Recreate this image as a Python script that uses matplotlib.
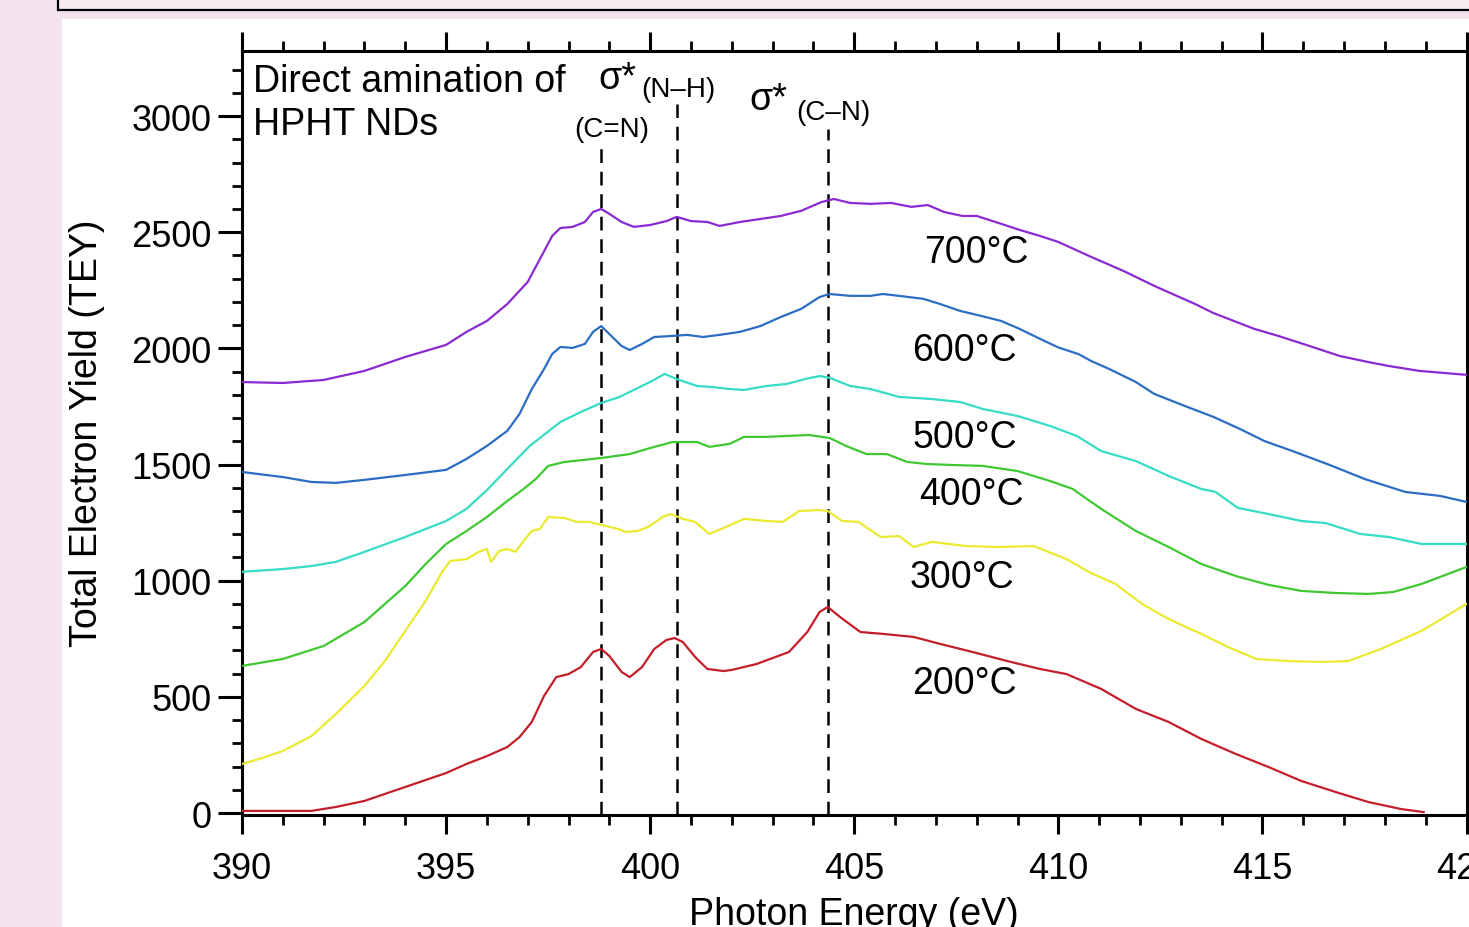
import matplotlib
matplotlib.use('Agg')
import matplotlib.pyplot as plt
from matplotlib.patches import Rectangle
from matplotlib.ticker import MultipleLocator

plt.rcParams['font.family'] = ['Liberation Sans', 'DejaVu Sans']

# ---------------- data ----------------
e_700 = [390.0, 391.0, 392.0, 393.0, 394.0, 395.0, 395.5, 396.0, 396.5, 397.0, 397.3, 397.6, 397.8,
         398.1, 398.4, 398.6, 398.8, 399.0, 399.3, 399.6, 400.0, 400.4, 400.65, 401.0, 401.4, 401.7,
         402.2, 402.7, 403.2, 403.7, 404.2, 404.5, 404.9, 405.4, 405.9, 406.4, 406.8, 407.2, 407.65,
         408.0, 408.6, 409.05, 409.55, 410.0, 410.8, 411.6, 412.35, 413.35, 413.8, 414.8, 415.4,
         416.0, 416.9, 417.6, 418.1, 418.85, 420.0]
tey_700 = [1855, 1851, 1864, 1903, 1963, 2015, 2071, 2118, 2191, 2286, 2385, 2484, 2518,
           2523, 2544, 2587, 2600, 2579, 2544, 2523, 2531, 2548, 2566, 2548, 2544, 2527,
           2544, 2557, 2570, 2592, 2630, 2643, 2626, 2622, 2626, 2609, 2617, 2587, 2570,
           2570, 2536, 2510, 2484, 2458, 2394, 2333, 2269, 2191, 2152, 2084, 2053,
           2019, 1967, 1941, 1924, 1903, 1886]

e_600 = [390.0, 391.0, 391.7, 392.3, 393.0, 394.0, 395.0, 395.5, 396.0, 396.5, 396.8, 397.1, 397.4,
         397.6, 397.8, 398.1, 398.4, 398.6, 398.8, 399.0, 399.3, 399.5, 399.8, 400.1, 400.5, 400.9,
         401.3, 401.7, 402.2, 402.7, 403.2, 403.7, 404.15, 404.4, 404.9, 405.4, 405.7, 406.1, 406.7,
         407.1, 407.6, 408.1, 408.6, 409.05, 409.55, 410.0, 410.5, 410.8, 411.25, 411.9, 412.35,
         413.1, 413.8, 414.45, 415.05, 415.8, 416.65, 417.5, 418.5, 419.35, 420.0]
tey_600 = [1468, 1446, 1425, 1421, 1434, 1455, 1477, 1524, 1580, 1645, 1718, 1825, 1911,
           1976, 2006, 2002, 2019, 2071, 2096, 2062, 2010, 1993, 2019, 2049, 2053, 2058,
           2049, 2058, 2071, 2096, 2135, 2170, 2221, 2234, 2226, 2226, 2234, 2226, 2213,
           2191, 2161, 2140, 2118, 2084, 2041, 2004, 1975, 1946, 1911, 1855, 1804,
           1752, 1705, 1653, 1601, 1554, 1498, 1438, 1382, 1365, 1339]

e_500 = [390.0, 391.0, 391.7, 392.3, 393.0, 394.0, 395.0, 395.5, 396.0, 396.5, 397.05, 397.8, 398.3,
         398.8, 399.25, 399.75, 400.05, 400.35, 400.65, 401.15, 401.5, 401.95, 402.3, 402.85, 403.35,
         403.8, 404.15, 404.4, 404.9, 405.4, 406.1, 406.9, 407.6, 408.15, 409.0, 409.8, 410.45,
         411.05, 411.9, 412.7, 413.5, 413.85, 414.4, 415.15, 415.95, 416.55, 417.4, 418.1, 418.9, 420.0]
tey_500 = [1038, 1050, 1063, 1081, 1124, 1188, 1257, 1309, 1390, 1481, 1580, 1683, 1726,
           1765, 1791, 1834, 1860, 1890, 1868, 1838, 1834, 1825, 1821, 1838, 1847,
           1868, 1881, 1873, 1838, 1825, 1791, 1782, 1769, 1739, 1709, 1666, 1623,
           1558, 1515, 1451, 1395, 1382, 1313, 1287, 1257, 1248, 1201, 1188, 1158, 1158]

e_400 = [390.0, 391.0, 392.0, 393.0, 394.0, 394.5, 395.0, 395.5, 396.0, 396.5, 396.9, 397.2, 397.5,
         397.9, 398.8, 399.5, 400.0, 400.55, 401.15, 401.45, 401.95, 402.3, 402.85, 403.35, 403.9,
         404.4, 404.8, 405.3, 405.8, 406.3, 406.8, 407.4, 408.15, 409.0, 409.8, 410.35, 411.05,
         411.9, 412.7, 413.5, 414.35, 415.15, 415.95, 416.8, 417.6, 418.2, 418.9, 420.0]
tey_400 = [633, 663, 719, 822, 977, 1072, 1158, 1214, 1274, 1343, 1395, 1438, 1494,
           1511, 1528, 1545, 1571, 1597, 1597, 1576, 1589, 1619, 1619, 1623, 1627,
           1614, 1580, 1545, 1545, 1511, 1502, 1498, 1494, 1472, 1429, 1395, 1309,
           1214, 1145, 1072, 1020, 982, 956, 947, 943, 951, 986, 1059]

e_300 = [390.0, 390.5, 391.0, 391.7, 392.3, 393.0, 393.5, 394.0, 394.5, 394.9, 395.1, 395.5, 395.8,
         396.0, 396.1, 396.3, 396.5, 396.7, 396.9, 397.1, 397.3, 397.5, 397.9, 398.2, 398.5, 398.8,
         399.2, 399.4, 399.7, 400.0, 400.3, 400.5, 400.8, 401.1, 401.45, 401.8, 402.3, 402.85,
         403.25, 403.65, 404.15, 404.35, 404.7, 405.1, 405.65, 406.1, 406.45, 406.9, 407.75,
         408.55, 409.4, 410.2, 410.75, 411.4, 412.05, 412.7, 413.5, 414.15, 414.85, 415.65,
         416.45, 417.1, 417.9, 418.9, 420.0]
tey_300 = [211, 237, 267, 331, 426, 547, 654, 784, 913, 1037, 1085, 1093, 1124,
           1137, 1081, 1128, 1137, 1124, 1171, 1214, 1223, 1274, 1270, 1253, 1253, 1240,
           1223, 1210, 1214, 1236, 1274, 1287, 1266, 1253, 1201, 1227, 1266, 1257,
           1253, 1300, 1304, 1300, 1257, 1253, 1188, 1192, 1145, 1167, 1149,
           1145, 1149, 1093, 1037, 986, 900, 835, 771, 715, 663, 654,
           650, 654, 706, 784, 900]

e_200 = [390.0, 391.0, 391.7, 392.3, 393.0, 394.0, 395.0, 395.5, 396.0, 396.5, 396.8, 397.1, 397.4,
         397.7, 398.0, 398.3, 398.6, 398.8, 399.0, 399.3, 399.5, 399.8, 400.1, 400.4, 400.6, 400.8,
         401.1, 401.4, 401.8, 402.0, 402.6, 403.4, 403.85, 404.15, 404.35, 404.65, 405.15, 405.7,
         406.45, 407.1, 407.9, 408.75, 409.55, 410.2, 411.05, 411.9, 412.7, 413.5, 414.35, 415.15,
         415.95, 416.8, 417.6, 418.4, 418.95]
tey_200 = [9, 9, 9, 26, 52, 112, 172, 211, 245, 284, 327, 392, 504,
           585, 598, 628, 693, 706, 676, 607, 585, 628, 706, 745, 753, 736,
           672, 620, 611, 616, 641, 693, 779, 865, 887, 844, 779, 771,
           758, 728, 693, 654, 620, 598, 534, 448, 392, 319, 254, 198,
           138, 90, 47, 17, 4]

temperatures = ['700°C', '600°C', '500°C', '400°C', '300°C', '200°C']
colors = ['#8a2ad2', '#2c6dc4', '#36dcc4', '#40c832', '#eaea30', '#c41e2a']
label_x = [408.0, 407.7, 407.7, 407.88, 407.63, 407.7]
label_y = [2415, 1993, 1619, 1373, 1016, 560]

peak_energies = [398.8, 400.65, 404.35]
peak_line_tops = [2867, 3052, 2945]

x_ticks = [390, 395, 400, 405, 410, 415, 420]
y_ticks = [0, 500, 1000, 1500, 2000, 2500, 3000]

# ---------------- figure ----------------
W, H = 1469, 928
fig = plt.figure(figsize=(W / 100, H / 100), dpi=100)
fig.patch.set_facecolor('#f3e3ec')
fig.add_artist(Rectangle((62 / W, 0), 1, (H - 20) / H, transform=fig.transFigure,
                         facecolor='white', edgecolor='none', zorder=0))
fig.add_artist(Rectangle((58 / W, (H - 11) / H), 1, 0.2, transform=fig.transFigure,
                         facecolor='#f8ecf2', edgecolor='black', lw=1.6, zorder=0))

ax = fig.add_axes([242 / W, (H - 816) / H, (1466.5 - 242) / W, (816 - 52) / H])
ax.set_facecolor('white')

series = [(e_700, tey_700), (e_600, tey_600), (e_500, tey_500),
          (e_400, tey_400), (e_300, tey_300), (e_200, tey_200)]
for (e, v), c in zip(series, colors):
    ax.plot(e, v, color=c, lw=1.6, zorder=3)

ymin, ymax = -8.6, 3280
ax.vlines(peak_energies, ymin, peak_line_tops, colors='black', lw=1.8,
          linestyles=(0, (5.5, 3.5)), zorder=2)

for t, x, y in zip(temperatures, label_x, label_y):
    ax.text(x, y, t, fontsize=27, ha='center', va='center', zorder=4)

ax.text(390.27, 3151, 'Direct amination of', fontsize=27, ha='left', va='center')
ax.text(390.27, 2966, 'HPHT NDs', fontsize=27, ha='left', va='center')
ax.text(398.72, 3165, 'σ*', fontsize=27, ha='left', va='center')
ax.text(399.77, 3117, '(N–H)', fontsize=20, ha='left', va='center')
ax.text(399.06, 2945, '(C=N)', fontsize=20, ha='center', va='center')
ax.text(402.44, 3074, 'σ*', fontsize=27, ha='left', va='center')
ax.text(403.57, 3018, '(C–N)', fontsize=20, ha='left', va='center')

ax.set_xlim(390, 420)
ax.set_ylim(ymin, ymax)
ax.set_xticks(x_ticks)
ax.set_yticks(y_ticks)
ax.xaxis.set_minor_locator(MultipleLocator(1))
ax.yaxis.set_minor_locator(MultipleLocator(100))

for s in ax.spines.values():
    s.set_linewidth(2.2)

ax.tick_params(axis='x', which='major', direction='out', length=14, width=2.2,
               top=True, bottom=True, labelsize=26, pad=12)
ax.tick_params(axis='x', which='minor', direction='out', length=7.5, width=2,
               top=True, bottom=True)
ax.tick_params(axis='y', which='major', direction='out', length=17, width=2.2,
               left=True, right=False, labelsize=26, pad=5)
ax.tick_params(axis='y', which='minor', direction='out', length=7.5, width=2,
               left=True, right=False)

ax.set_xlabel('Photon Energy (eV)', fontsize=27)
ax.set_ylabel('Total Electron Yield (TEY)', fontsize=27)
ax.xaxis.set_label_coords(0.5, -0.106)
ax.yaxis.set_label_coords(-0.1115, 0.501)

fig.savefig('out.png', dpi=100, facecolor=fig.get_facecolor())
